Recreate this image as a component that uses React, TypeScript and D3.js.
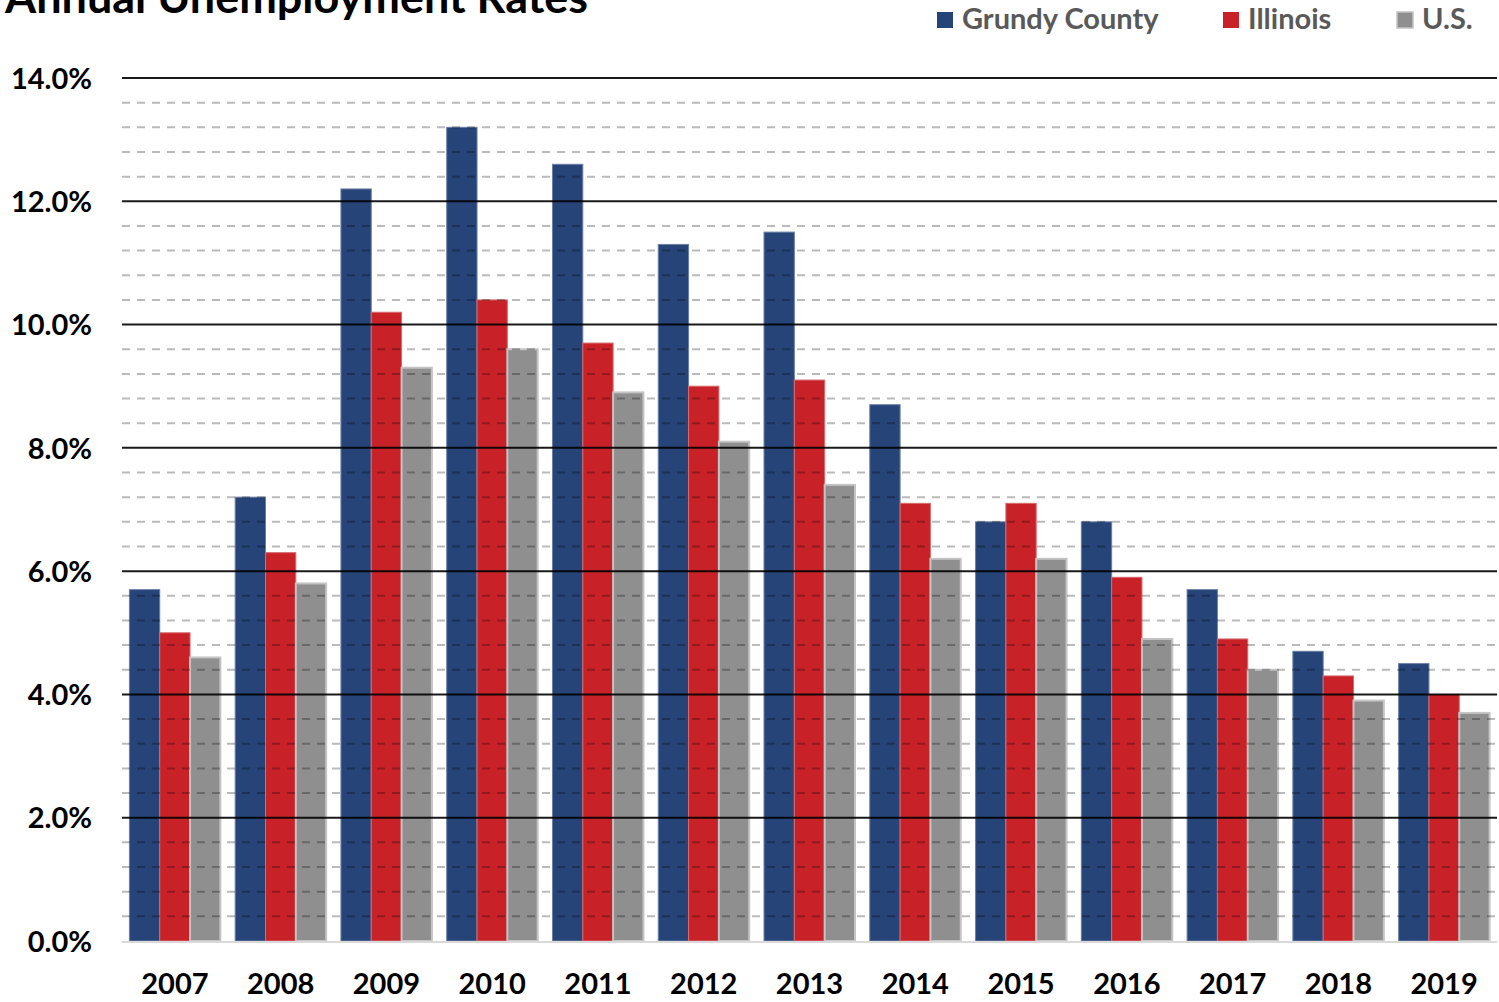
import { useEffect, useRef } from 'react'
import * as d3 from 'd3'

// Years on the x axis
const years = ['2007', '2008', '2009', '2010', '2011', '2012', '2013', '2014', '2015', '2016', '2017', '2018', '2019']
// Unemployment rates (%) per series
const grundy = [5.7, 7.2, 12.2, 13.2, 12.6, 11.3, 11.5, 8.7, 6.8, 6.8, 5.7, 4.7, 4.5]
const illinois = [5.0, 6.3, 10.2, 10.4, 9.7, 9.0, 9.1, 7.1, 7.1, 5.9, 4.9, 4.3, 4.0]
const us = [4.6, 5.8, 9.3, 9.6, 8.9, 8.1, 7.4, 6.2, 6.2, 4.9, 4.4, 3.9, 3.7]
const seriesNames = ['Grundy County', 'Illinois', 'U.S.']
const majorTicks = [0, 2, 4, 6, 8, 10, 12, 14]

const colors = ['#264478', '#C82228', '#8F8F8F']
const strokes = ['#6b7fa6', '#d86a6e', '#c4c4c4']

const W = 1499
const H = 1002
const FONT = 'Lato, "Open Sans", sans-serif'

const App = () => {
  const svgRef = useRef<SVGSVGElement | null>(null)

  useEffect(() => {
    const svg = d3.select(svgRef.current)
    svg.selectAll('*').remove()

    const left = 122
    const right = 1497
    const top = 78
    const bottom = 941

    const x = d3.scaleBand<string>().domain(years).range([left, right]).paddingInner(0.14).paddingOuter(0.07)
    const xSub = d3.scaleBand<string>().domain(seriesNames).range([0, x.bandwidth()])
    const y = d3.scaleLinear().domain([0, 14]).range([bottom, top])

    svg.append('rect').attr('width', W).attr('height', H).attr('fill', '#fff')

    // Title (cut off at the top like in the source)
    svg
      .append('text')
      .attr('x', 5)
      .attr('y', 13)
      .attr('textLength', 583)
      .attr('lengthAdjust', 'spacingAndGlyphs')
      .style('font-family', FONT)
      .style('font-weight', 'bold')
      .style('font-size', '43px')
      .attr('fill', '#000')
      .text('Annual Unemployment Rates')

    // Legend
    const legendX = [937, 1223, 1397]
    seriesNames.forEach((name, i) => {
      svg
        .append('rect')
        .attr('x', legendX[i])
        .attr('y', 12)
        .attr('width', 16)
        .attr('height', 16)
        .attr('fill', colors[i])
        .attr('stroke', i === 2 ? strokes[2] : 'none')
        .attr('stroke-width', 1.5)
      svg
        .append('text')
        .attr('x', legendX[i] + 25)
        .attr('y', 29)
        .style('font-family', FONT)
        .style('font-weight', 'bold')
        .style('font-size', '29px')
        .attr('fill', '#595959')
        .text(name)
    })

    // Bars
    const data = [grundy, illinois, us]
    const groups = svg
      .append('g')
      .selectAll('g')
      .data(years)
      .enter()
      .append('g')
      .attr('transform', (d) => `translate(${x(d)},0)`)
    groups
      .selectAll('rect')
      .data((d) => data.map((s, k) => ({ k, v: s[years.indexOf(d)] })))
      .enter()
      .append('rect')
      .attr('x', (d) => xSub(seriesNames[d.k]) as number)
      .attr('y', (d) => y(d.v))
      .attr('width', xSub.bandwidth())
      .attr('height', (d) => bottom - y(d.v))
      .attr('fill', (d) => colors[d.k])
      .attr('stroke', (d) => strokes[d.k])
      .attr('stroke-width', (d) => (d.k === 2 ? 2 : 1))

    // Minor dashed gridlines every 0.4%
    const minor = d3.range(0.4, 14, 0.4).filter((v) => Math.abs(v / 2 - Math.round(v / 2)) > 0.01)
    svg
      .append('g')
      .selectAll('line')
      .data(minor)
      .enter()
      .append('line')
      .attr('x1', left)
      .attr('x2', right)
      .attr('y1', (d) => y(d))
      .attr('y2', (d) => y(d))
      .attr('stroke', 'rgba(0,0,0,0.27)')
      .attr('stroke-width', 2)
      .attr('stroke-dasharray', '8,7')

    // Major gridlines
    svg
      .append('g')
      .selectAll('line')
      .data(majorTicks.filter((d) => d > 0))
      .enter()
      .append('line')
      .attr('x1', left)
      .attr('x2', right)
      .attr('y1', (d) => y(d))
      .attr('y2', (d) => y(d))
      .attr('stroke', 'rgba(0,0,0,0.9)')
      .attr('stroke-width', 2)

    // Baseline
    svg
      .append('line')
      .attr('x1', left)
      .attr('x2', right)
      .attr('y1', bottom + 1)
      .attr('y2', bottom + 1)
      .attr('stroke', '#D9D9D9')
      .attr('stroke-width', 2)

    // Y axis labels
    const yAxis = d3
      .axisLeft(y)
      .tickValues(majorTicks)
      .tickFormat((d) => `${(d as number).toFixed(1)}%`)
      .tickSize(0)
      .tickPadding(0)
    const yAxisGroup = svg.append('g').attr('transform', 'translate(92,1)').call(yAxis)
    yAxisGroup.select('.domain').remove()
    yAxisGroup
      .selectAll('text')
      .attr('fill', '#000')
      .style('font-family', FONT)
      .style('font-weight', 'bold')
      .style('font-size', '29px')

    // X axis labels
    const xAxis = d3.axisBottom(x).tickSize(0).tickPadding(0)
    const xAxisGroup = svg.append('g').attr('transform', `translate(0,${bottom + 32})`).call(xAxis)
    xAxisGroup.select('.domain').remove()
    xAxisGroup
      .selectAll('text')
      .attr('fill', '#000')
      .style('font-family', FONT)
      .style('font-weight', 'bold')
      .style('font-size', '29px')
  }, [])

  return (
    <svg
      ref={svgRef}
      width={W}
      height={H}
      style={{ position: 'absolute', left: 0, top: 0, display: 'block' }}
    />
  )
}

export default App
